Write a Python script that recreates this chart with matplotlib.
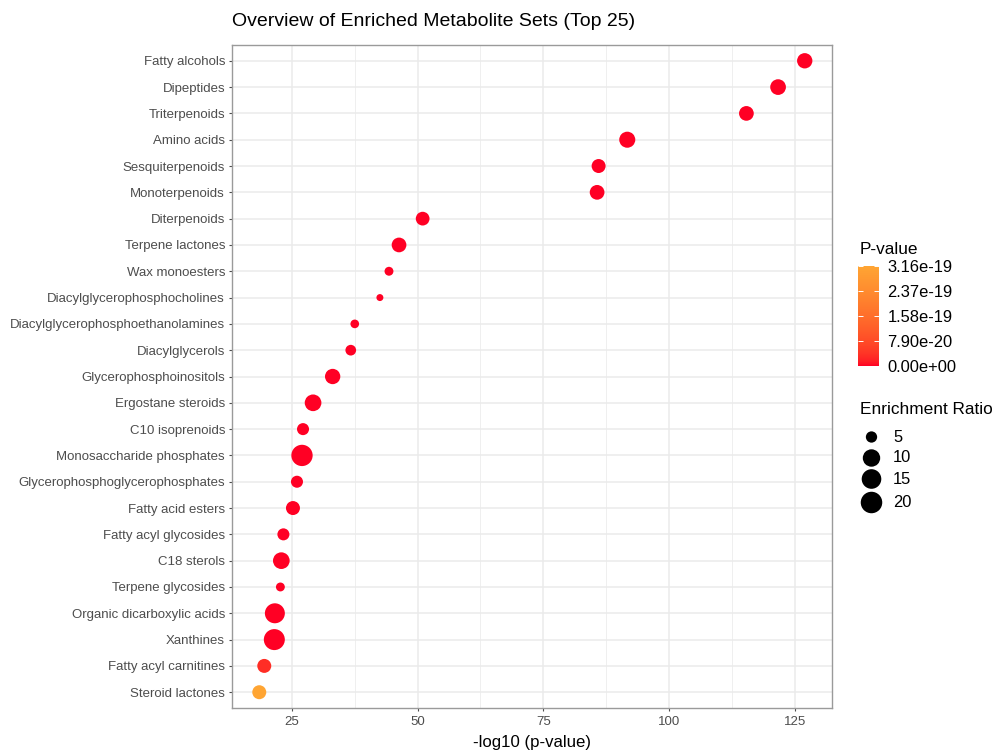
import numpy as np
import matplotlib
matplotlib.use("Agg")
import matplotlib.pyplot as plt
from matplotlib.colors import LinearSegmentedColormap, Normalize
from matplotlib.cm import ScalarMappable
from matplotlib.ticker import FixedLocator, MultipleLocator, FuncFormatter

# ---------------------------------------------------------------- data
metabolite_sets = [
    "Fatty alcohols", "Dipeptides", "Triterpenoids", "Amino acids",
    "Sesquiterpenoids", "Monoterpenoids", "Diterpenoids", "Terpene lactones",
    "Wax monoesters", "Diacylglycerophosphocholines",
    "Diacylglycerophosphoethanolamines", "Diacylglycerols",
    "Glycerophosphoinositols", "Ergostane steroids", "C10 isoprenoids",
    "Monosaccharide phosphates", "Glycerophosphoglycerophosphates",
    "Fatty acid esters", "Fatty acyl glycosides", "C18 sterols",
    "Terpene glycosides", "Organic dicarboxylic acids", "Xanthines",
    "Fatty acyl carnitines", "Steroid lactones",
]
p_values = [
    1.0e-127, 2.0e-122, 4.0e-116, 2.0e-92,
    1.0e-86, 2.0e-86, 1.0e-51, 5.0e-47,
    5.0e-45, 3.2e-43,
    3.2e-38, 2.0e-37,
    8.0e-34, 6.3e-30, 6.3e-28,
    1.0e-27, 1.0e-26,
    6.3e-26, 5.0e-24, 1.3e-23,
    2.0e-23, 2.5e-22, 3.2e-22,
    3.2e-20, 3.16e-19,
]
enrichment_ratio = [
    8.3, 8.6, 7.8, 8.9,
    7.2, 7.8, 7.0, 7.8,
    4.0, 3.2,
    3.9, 4.75,
    8.3, 9.4, 5.6,
    19.5, 5.6,
    7.2, 5.6, 9.4,
    4.0, 16.0, 18.7,
    7.2, 7.2,
]
x_breaks = [25, 50, 75, 100, 125]
ratio_breaks = [5, 10, 15, 20]

# ---------------------------------------------------------------- styling
DPI = 100
W, H = 992, 751
FONT = "Liberation Sans"
plt.rcParams["font.family"] = [FONT, "DejaVu Sans"]

LOW_COL, HIGH_COL = "#FF0024", "#FFA533"


def _hex_rgb(h):
    h = h.lstrip("#")
    return np.array([int(h[i:i + 2], 16) / 255 for i in (0, 2, 4)])


_M = np.array([[0.4124, 0.3576, 0.1805],
               [0.2126, 0.7152, 0.0722],
               [0.0193, 0.1192, 0.9505]])
_WHITE = _M @ np.ones(3)
_D = 6 / 29


def _to_lab(rgb):
    lin = np.where(rgb <= 0.04045, rgb / 12.92, ((rgb + 0.055) / 1.055) ** 2.4)
    t = (_M @ lin) / _WHITE
    f = np.where(t > _D ** 3, np.cbrt(t), t / (3 * _D ** 2) + 4 / 29)
    return np.array([116 * f[1] - 16, 500 * (f[0] - f[1]), 200 * (f[1] - f[2])])


def _from_lab(lab):
    fy = (lab[0] + 16) / 116
    f = np.array([fy + lab[1] / 500, fy, fy - lab[2] / 200])
    t = np.where(f > _D, f ** 3, 3 * _D ** 2 * (f - 4 / 29)) * _WHITE
    lin = np.clip(np.linalg.solve(_M, t), 0, 1)
    rgb = np.where(lin <= 0.0031308, 12.92 * lin,
                   1.055 * np.power(lin, 1 / 2.4) - 0.055)
    return np.clip(rgb, 0, 1)


def lab_gradient(c0, c1, n=256):
    a, b = _to_lab(_hex_rgb(c0)), _to_lab(_hex_rgb(c1))
    cols = [_from_lab(a + (b - a) * t) for t in np.linspace(0, 1, n)]
    return LinearSegmentedColormap.from_list("pvalue", cols)


# marker diameter (pixels) as a function of enrichment ratio
RATIO_KNOTS = [3, 5, 10, 15, 20, 25]
DIAM_KNOTS = [6.5, 11.3, 17.4, 19.6, 21.5, 23.4]


def marker_area(r):
    d_pt = np.interp(r, RATIO_KNOTS, DIAM_KNOTS) * 72 / DPI
    return d_pt ** 2


def px(v, total):
    return v / total


# ---------------------------------------------------------------- figure
fig = plt.figure(figsize=(W / DPI, H / DPI), dpi=DPI)
ax = fig.add_axes([px(232, W), 1 - px(708, H), px(600, W), px(663, H)])

pv = np.array(p_values)
xv = -np.log10(pv)
n = len(metabolite_sets)
yv = np.arange(n)[::-1]

cmap = lab_gradient(LOW_COL, HIGH_COL)
norm = Normalize(vmin=0, vmax=pv.max())

ax.scatter(xv, yv, s=marker_area(np.array(enrichment_ratio)),
           c=pv, cmap=cmap, norm=norm, linewidths=0, zorder=3)

lo, hi = xv.min(), xv.max()
pad = 0.05 * (hi - lo)
ax.set_xlim(lo - pad, hi + pad)
ax.set_ylim(-0.6, n - 1 + 0.6)

ax.xaxis.set_major_locator(FixedLocator(x_breaks))
ax.xaxis.set_minor_locator(MultipleLocator(12.5))
ax.set_yticks(yv)
ax.set_yticklabels(metabolite_sets)

ax.grid(True, which="major", color="#EBEBEB", linewidth=1.1, zorder=0)
ax.grid(True, which="minor", axis="x", color="#EFEFEF", linewidth=0.7, zorder=0)
ax.set_axisbelow(True)

ax.tick_params(which="major", length=2.5, width=0.8, color="#4D4D4D",
               labelcolor="#4D4D4D", labelsize=9.5, pad=2.5)
ax.tick_params(axis="x", which="major", pad=3.5)
ax.tick_params(which="minor", length=0)
for s in ax.spines.values():
    s.set_color("#9A9A9A")
    s.set_linewidth(1.0)

ax.set_xlabel("-log10 (p-value)", fontsize=12.1, color="black", labelpad=4.5)
fig.text(px(232, W), 1 - px(22, H), "Overview of Enriched Metabolite Sets (Top 25)",
         fontsize=14, ha="left", va="center", color="black")

# ---------------------------------------------------------------- p-value colourbar
fig.text(px(860, W), 1 - px(249, H), "P-value", fontsize=12.4,
         ha="left", va="center")
cax = fig.add_axes([px(858, W), 1 - px(366, H), px(21, W), px(100, H)])
cb = fig.colorbar(ScalarMappable(norm=norm, cmap=cmap), cax=cax,
                  ticks=np.linspace(0, pv.max(), 5))
cb.outline.set_visible(False)
cax.yaxis.set_major_formatter(FuncFormatter(lambda v, _: f"{v:.2e}"))
cax.tick_params(axis="y", direction="in", color="white", length=3.5,
                width=0.7, left=True, right=True, labelsize=11.9, pad=6)

# ---------------------------------------------------------------- size legend
fig.text(px(860, W), 1 - px(410, H), "Enrichment Ratio", fontsize=12.4,
         ha="left", va="center")
lax = fig.add_axes([0, 0, 1, 1], facecolor="none")
lax.set_xlim(0, W)
lax.set_ylim(H, 0)
lax.axis("off")
key_y = [437, 458, 479, 502.5]
lax.scatter([871.5] * len(ratio_breaks), key_y,
            s=marker_area(np.array(ratio_breaks)), c="black", linewidths=0)
for yk, r in zip(key_y, ratio_breaks):
    lax.text(893, yk, str(r), fontsize=11.9, ha="left", va="center")

fig.savefig("out.png", dpi=DPI)
